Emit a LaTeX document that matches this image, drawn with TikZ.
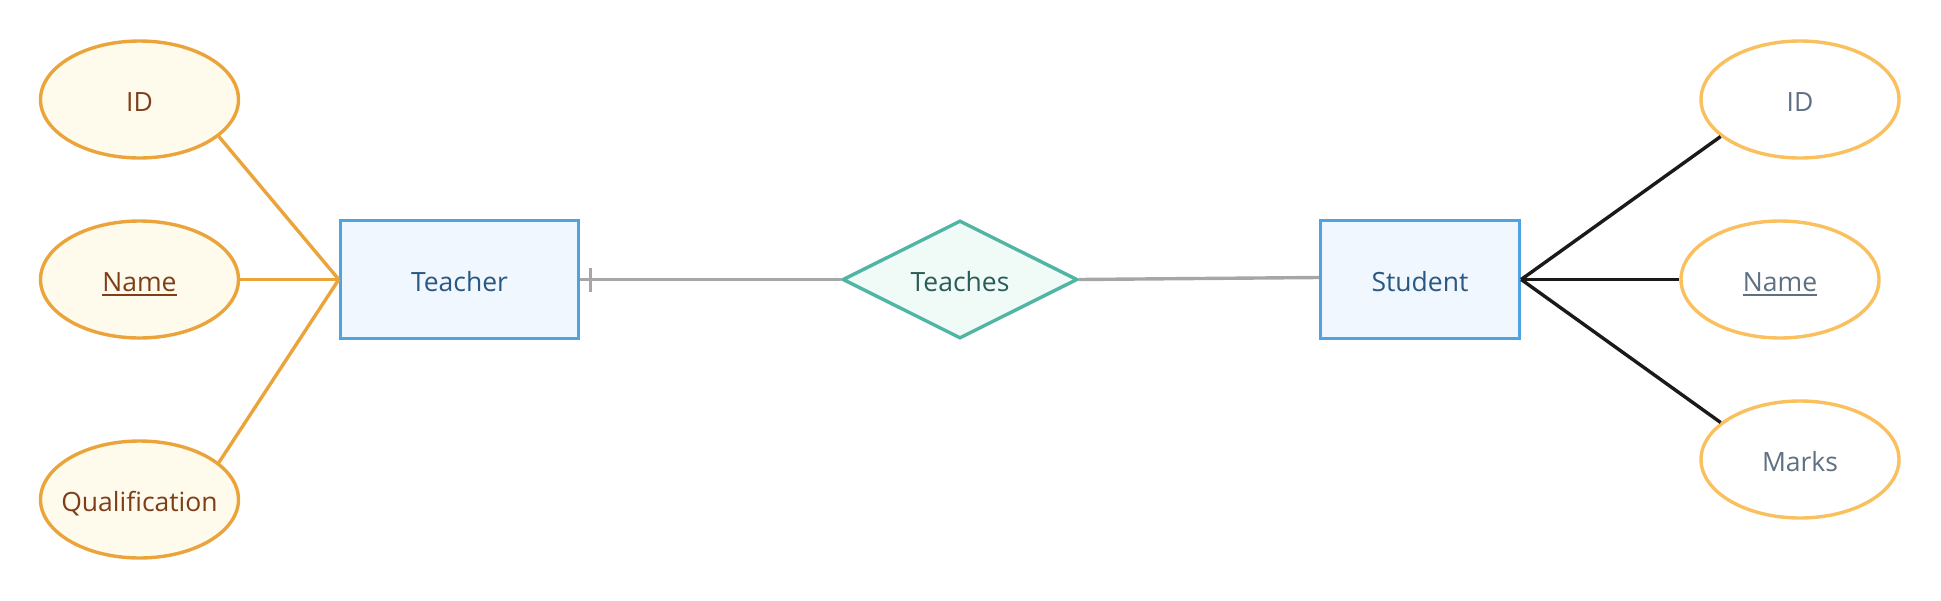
\documentclass[tikz,border=0pt]{standalone}
\usepackage{fontspec}
\setmainfont{Open Sans}
\usetikzlibrary{shapes.geometric}

\definecolor{entblue}{RGB}{78,163,224}
\definecolor{entfill}{RGB}{240,247,254}
\definecolor{enttext}{RGB}{41,88,130}
\definecolor{relteal}{RGB}{80,182,163}
\definecolor{relfill}{RGB}{240,251,248}
\definecolor{reltext}{RGB}{42,92,88}
\definecolor{lorange}{RGB}{235,164,58}
\definecolor{lfill}{RGB}{254,250,236}
\definecolor{ltext}{RGB}{128,62,24}
\definecolor{rorange}{RGB}{250,192,94}
\definecolor{rtext}{RGB}{94,112,130}
\definecolor{grayline}{RGB}{166,166,166}
\definecolor{darkline}{RGB}{26,26,26}

% underlined key attribute
\newcommand\keytext[1]{\setbox0\hbox{#1}\rlap{\rule[-4.5pt]{\wd0}{1.7pt}}\box0}

\tikzset{
  base/.style={line width=3.4pt, font=\fontsize{26.5}{32}\selectfont,
    text height=23pt, text depth=0pt, inner sep=0pt},
  entity/.style={base, rectangle, draw=entblue, fill=entfill, text=enttext,
    minimum height=118pt},
  relation/.style={base, diamond, aspect=2, draw=relteal, fill=relfill,
    text=reltext, minimum width=235pt, minimum height=118pt},
  attr/.style={base, ellipse, inner xsep=-40pt, minimum width=198pt,
    minimum height=117pt},
  attrL/.style={attr, draw=lorange, fill=lfill, text=ltext},
  attrR/.style={attr, draw=rorange, fill=white, text=rtext},
  tline/.style={line width=3.4pt, draw=lorange},
  sline/.style={line width=3.4pt, draw=darkline},
  rline/.style={line width=3.4pt, draw=grayline},
}

\begin{document}
\begin{tikzpicture}[x=1pt, y=-1pt]
  \useasboundingbox (0,0) rectangle (1941,600);
  % entities and relationship
  \node[entity, minimum width=238pt] (teacher) at (459.5,279.5) {Teacher};
  \node[relation] (teaches) at (960,279.5) {Teaches};
  \node[entity, minimum width=199pt] (student) at (1420,279.5) {Student};
  % teacher attributes
  \node[attrL] (tid) at (139.5,99.5) {ID};
  \node[attrL] (tname) at (139.5,279.5) {\keytext{Name}};
  \node[attrL] (tqual) at (139.5,499.5) {Qualification};
  % student attributes
  \node[attrR] (sid) at (1800,99.5) {ID};
  \node[attrR] (sname) at (1780,279.5) {\keytext{Name}};
  \node[attrR] (smarks) at (1800,459.5) {Marks};
  % attribute connectors
  \draw[tline] (tid.-25) -- (teacher.west);
  \draw[tline] (tname.east) -- (teacher.west);
  \draw[tline] (tqual.25) -- (teacher.west);
  \draw[sline] (student.east) -- (sid.205);
  \draw[sline] (student.east) -- (sname.west);
  \draw[sline] (student.east) -- (smarks.155);
  % relationship connectors
  \draw[rline] (teacher.east) -- (teaches.west);
  \draw[rline] ([xshift=10pt]teacher.east) ++(0,-12) -- ++(0,24);
  \draw[rline] (teaches.east) -- ([yshift=2pt]student.west);
\end{tikzpicture}
\end{document}
